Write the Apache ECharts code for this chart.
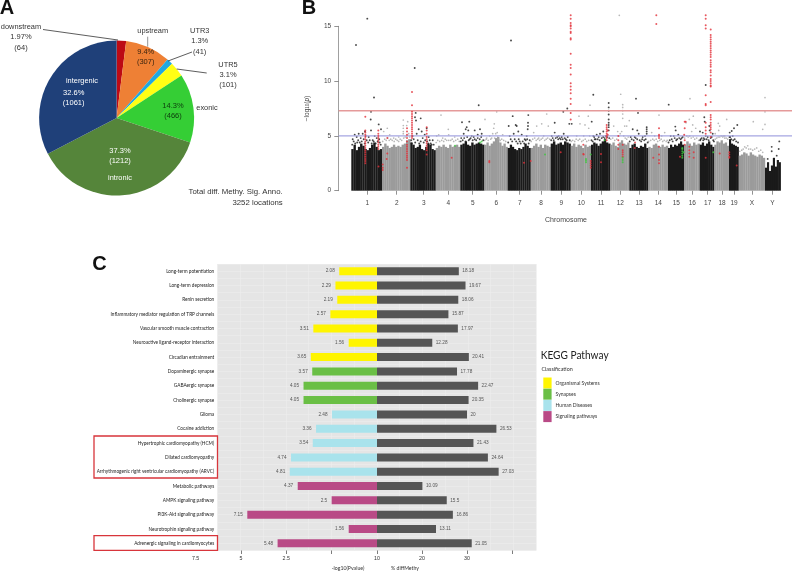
<!DOCTYPE html>
<html><head><meta charset="utf-8">
<style>html,body{margin:0;padding:0;background:#fff}#c{width:800px;height:574px}</style>
<script src="https://cdn.jsdelivr.net/npm/echarts@6/dist/echarts.min.js"></script>
</head><body><div id="c"></div>
<script>
// ---------- Panel A ----------
const pieNames = ['downstream','upstream','UTR3','UTR5','exonic','intronic','intergenic'];
const pieCounts = [64,307,41,101,466,1212,1061];
const piePercents = ['1.97%','9.4%','1.3%','3.1%','14.3%','37.3%','32.6%'];
const pieColors = ['#BC0A14','#EE8035','#1FA8E2','#FFFF14','#35CE35','#55853A','#1F4079'];
const pieLabelCenters = [[21,42.5],[145.7,57],[199.7,46.5],[228,80],[173,111],[120,156],[73.7,98]];
const pieLabelColors = ['#333','#3a2410','#333','#333','#0d3a0d','#fff','#fff'];
const pieNameCenters = [[21,27],[152.7,31],[199.7,30.5],[228,64.5],[207,108],[120,178],[82,81]];
const pieNameColors = ['#333','#333','#333','#333','#333','#fff','#fff'];

// ---------- Panel B ----------
const chromNames = ['1','2','3','4','5','6','7','8','9','10','11','12','13','14','15','16','17','18','19','X','Y'];
const chromEdges = [12.6,43.3,71.6,97,121.6,145.6,169,192,212,232,252.3,271.6,290.6,309.6,329.3,345.3,361,375.6,390.3,400,426.3,442];
const chromTicks = [28.6,58,85,109.6,134,157.6,181,202.3,222.6,242.6,262.3,281.6,300.3,319.6,337.6,353.6,369,383.3,395.3,413.3,433.6];
const chromTops = [
 [3.8,4.2,3.7,4.0,4.3,4.1,3.8,3.7,3.9,4.2,4.4,4.0,3.7,3.8],
 [4.0,4.3,4.1,3.9,4.0,4.2,4.0,4.1,4.0,4.2,4.3,4.6,4.7],
 [4.4,4.2,3.9,4.0,4.2,3.8,3.7,4.0,4.3,4.2,3.8,3.7],
 [3.9,4.1,4.0,4.2,4.0,3.9,4.2,4.0,4.1,4.2,4.0],
 [4.2,4.3,4.5,4.2,4.1,4.4,4.2,4.3,4.4,4.3,4.2],
 [4.2,4.4,4.1,4.3,4.5,4.8,4.9,4.4,4.1,4.3,4.0],
 [3.9,4.2,4.0,3.8,3.7,3.9,3.8,4.0,4.3,4.1,3.9],
 [3.9,4.1,4.3,4.0,4.2,3.9,4.2,4.1,4.0],
 [4.3,4.5,4.2,4.3,4.4,4.2,4.5,4.4,4.3],
 [4.1,4.3,4.0,4.2,4.1,3.9,4.2,4.0,4.1],
 [4.2,4.4,4.3,4.1,4.3,4.5,4.7,4.4,4.3],
 [4.2,4.4,4.1,4.0,4.4,4.6,4.3,4.2,4.4],
 [3.9,4.2,4.3,4.0,3.9,4.1,4.0,4.3,3.9],
 [4.0,3.9,4.2,4.3,4.1,4.0,4.2,4.0,4.1],
 [3.9,4.2,4.0,4.2,4.1,4.3,4.5,4.2],
 [4.2,4.5,4.3,4.1,4.4,4.2,4.3],
 [4.2,4.4,4.1,4.3,4.5,4.2,4.0],
 [4.2,4.5,4.4,4.6,4.3,4.4,4.1],
 [4.7,4.3,4.2,4.1,4.0],
 [3.2,3.3,3.5,3.4,3.2,3.5,3.3,3.2,3.1,3.3,3.2,3.0],
 [2.1,2.6,1.8,2.3,3.0,2.2,2.8,2.6]
];
const blackPoints = [
 [17.3,13.3],[28.6,15.7],[35.3,8.5],[32.3,7.2],[32,6.5],[40,6.05],[42.3,5.6],[26.3,5.4],[32.3,5.5],[16,5.1],[20,5.2],[24,5.2],[18,4.9],[30,4.9],[36,5],[14,4.7],[22,4.8],[38,4.8],[27,5],[34,4.6],[41,4.4],
 [13.5,4.2],[15,4.5],[16.5,4.3],[18.5,4.4],[19.5,4.6],[21,4.4],[23,4.5],[25,4.7],[26,4.3],[28,4.6],[29.5,4.4],[31,4.6],[33,4.3],[35,4.5],[37,4.3],[39,4.5],[40.5,4.7],[42,4.2],
 [76,11.2],[77,7.1],[76.3,6.7],[82,6.6],[77.3,6.4],[80,5.6],[88,5.7],[83,5.4],[74,5],[78,5.2],[86,5.1],[90,4.9],[84,4.8],[94,4.6],[72.5,4.6],[92,4.3],
 [73,4.3],[75,4.7],[76.5,4.4],[79,4.6],[80.5,4.3],[82,4.5],[85,4.4],[86.5,4.6],[88.5,4.5],[89.5,4.3],[91,4.6],[93,4.2],[95,4.2],
 [140,7.8],[123.3,6.25],[130.6,6.3],[128,5.8],[127,5.6],[129.6,5.5],[141.3,5.6],[136,5.5],[125,5.2],[133,5],[139,5.1],[122.5,4.8],[131,4.7],[143,5.2],[127,4.5],[136,4.7],
 [122,4.5],[124,4.6],[125.5,4.8],[128.5,4.9],[130,4.6],[132,4.8],[134,4.6],[135,4.9],[137.5,4.6],[139,4.8],[141,4.7],[142.5,4.9],[144.5,4.6],
 [172.3,13.7],[174,6.8],[170,5.9],[177,6],[178,5.9],[189.6,6.9],[189.3,6.2],[189.3,5.9],[189,5.6],[179.6,5.4],[175,5.2],[171,5],[183,5.1],[188,5],[186,4.7],[191,4.6],[176,4.7],[181,4.5],
 [169.5,4.4],[172,4.7],[173.5,4.5],[177.5,4.5],[179,4.3],[180,4.7],[182,4.3],[184,4.5],[185.5,4.3],[187,4.6],[188.5,4.7],[190,4.3],
 [228.6,7.5],[224.6,7.2],[230.6,6.1],[233,6.1],[216,6.2],[216,5.3],[220,5],[225,5.2],[213,5],[229,4.9],[222,4.7],[217,4.8],[231,4.6],
 [212.5,4.6],[214,4.8],[215,4.6],[218.5,4.9],[219.5,4.7],[221,4.8],[223,4.9],[224,4.7],[226,4.8],[227,4.7],[228,4.6],
 [254.6,8.75],[270,8],[270,7.6],[270,7.3],[253,6.3],[270,6.95],[270,6.5],[270,6.2],[270,6],[270,5.8],[270,5.5],[264.6,5.4],[261.3,5.2],[254.6,5],[258,5.1],[266,4.8],[256,4.7],
 [252.8,4.6],[254,4.5],[255.5,4.9],[257,4.7],[259,4.7],[260,4.9],[261,4.6],[263,4.8],[264.5,4.9],[267,5],[268.5,4.9],[270.5,4.8],
 [297.3,8.4],[299.3,7.1],[298.6,5.5],[294,5.6],[308,5.8],[308,5.6],[308,5.4],[308,5.2],[306.3,5],[292,4.9],[300,5.2],[296,4.9],[304,4.9],
 [291,4.5],[293,4.7],[295,4.6],[297,4.8],[298.5,4.7],[301,4.6],[302.5,4.5],[303.5,4.7],[305.5,4.6],[307,4.7],[309,4.4],
 [330,7.85],[336.6,5.85],[337,5.5],[332,5],[335,5],[336,4.8],[339.6,5.1],[343,4.8],
 [329.8,4.4],[331,4.6],[333,4.7],[334,4.5],[337.5,4.6],[338.5,4.7],[340.5,4.8],[342,4.7],[344,4.9],
 [367,9.65],[365.6,6.7],[366,6.3],[361.3,5.4],[364,5.3],[367,5],[370.6,5.9],[371,5.5],[374,5.2],[365,4.8],[362,4.7],
 [361.5,4.6],[363,4.8],[364.5,4.6],[366,4.7],[368,4.7],[369,4.9],[370,4.6],[372,4.8],[373,4.9],[374.5,4.6],[375.2,4.5],
 [398.6,6],[395.3,5.7],[393,5.45],[391,5.3],[394,5],[391.5,4.9],
 [390.8,4.9],[392.5,4.7],[394.5,4.6],[396,4.7],[397.5,4.5],[399.3,4.4],
 [433,4],[440.6,4.5],[433,3.6],[440,3.8],[429,2.9],[438,3.2]
];
const grayPoints = [
 [64.6,6.45],[64.6,5.95],[64.6,5.7],[64.6,5.4],[64.6,5.2],[48.6,5.7],[45,5.4],[51,5.1],[68,5.95],[69,6.3],[55,4.8],[60,4.9],
 [44,4.5],[46,4.7],[47.5,4.6],[49,4.8],[50.5,4.6],[52,4.7],[53.5,4.6],[55.5,4.5],[57,4.7],[58.5,4.6],[60,4.5],[61.5,4.7],[63,4.6],[65,4.8],[66.5,4.9],[68,5],[70,5.2],[71,4.9],
 [102.3,6.9],[100,5.1],[109.6,5.6],[116,4.9],[110,5.1],[104,4.8],[98,5],
 [97.5,4.4],[99,4.6],[101,4.5],[103,4.6],[105,4.5],[106.5,4.7],[108,4.6],[110,4.6],[112,4.6],[113.5,4.7],[115,4.5],[117,4.6],[119,4.7],[120.5,4.5],
 [158,7.2],[146.3,6.5],[155.6,6.1],[155,5.7],[154,5.2],[151,5],[159,4.9],[164,5.1],[148,4.8],
 [146,4.6],[147.5,4.7],[149.5,4.6],[152,4.7],[153,4.8],[156,4.8],[157,5.2],[158.5,5.3],[160,4.7],[161.5,4.6],[163,4.7],[165,4.6],[167,4.5],
 [208,7],[198,5.9],[203,6.1],[209.6,5.9],[195,5.3],[205,5],[200,4.8],
 [192.5,4.5],[194,4.7],[196,4.8],[197.5,4.6],[199,4.7],[201,4.6],[202.5,4.7],[204,4.8],[206,4.6],[207.5,4.7],[209,4.8],[211,4.7],
 [240.3,6.8],[249.6,6.8],[246.3,6],[251.3,7.8],[241.3,6.1],[250,5.7],[245,5],[238,5],[251,5],
 [232.5,4.5],[234,4.6],[236,4.5],[237.5,4.7],[239.5,4.6],[241,4.7],[243,4.5],[244.5,4.6],[246.5,4.7],[248,4.5],[250,4.6],
 [282,8.8],[284,7.85],[284,7.6],[284,7.3],[284,7],[284,6.6],[280.6,16],[290.6,6.4],[286,5.9],[288,5.9],[279,5.4],[275,5.9],
 [272,4.7],[274,4.8],[276,4.6],[278,4.7],[280,5],[281.5,5.2],[283,5.4],[285,5],[286.5,4.8],[288,4.7],[289.5,4.9],
 [320.3,6.9],[326,5.3],[313,5.3],[316,5],[323,5],
 [310,4.5],[312,4.6],[314,4.7],[315.5,4.6],[317.5,4.7],[319,4.5],[321,4.6],[322.5,4.7],[324,4.5],[325.5,4.6],[327.5,4.5],[328.5,4.6],
 [351.3,8.4],[354.6,6.8],[350.6,6.5],[347.3,6.2],[354,6],[353,5.4],[357,5.7],
 [346,4.8],[348,5],[349.5,4.9],[351,5],[352.5,4.8],[354.5,4.9],[356,4.7],[358,4.8],[360,4.6],
 [388,6.5],[379.6,6.15],[381,5.9],[380,5.5],[376.5,5.2],[386,5],[384,4.9],
 [376.5,4.7],[378,4.8],[379.5,4.9],[381,4.9],[382.5,5],[384.5,5],[386,4.8],[387.5,4.8],[389,4.7],
 [414.6,6.3],[424,5.6],[426.3,8.5],[426.3,7.2],[426.3,6.05],[409,4.1],[406,4],[412,3.8],[418,3.9],[422,3.7],
 [401,3.6],[403,3.7],[404.5,3.8],[407.5,3.9],[410,3.8],[414,3.7],[416,3.8],[420,3.6],[424,3.5]
];
const redPoints = [
 [26.6,6.75],[26.6,5.5],[26.6,5.3],[26.6,5.1],[26.6,4.9],[26.6,4.7],[26.6,4.5],[26.6,4.3],[26.6,4.1],[26.6,3.9],[26.6,3.7],[26.6,3.5],[26.6,3.3],[26.6,3.1],[26.6,2.9],[26.6,2.7],[26.6,2.5],
 [39.6,5.5],[39.6,5.2],[39.6,5],[39.6,4.8],[39.6,4.6],[39.6,4.4],[39.6,4.2],[39.6,4],[39.6,3.8],[44,2.4],[44,2.1],[44,1.9],[39.8,2.2],
 [48.6,4.8],[48.6,3.4],[48,2.9],
 [68.3,5.7],[68.3,5.4],[68.3,5.1],[68.3,4.8],[68.3,4.5],[68.3,4.2],[68.3,4],[68.3,3.8],[68.3,3.6],[68.3,3.4],[68.3,3.2],[68.3,3],[68.3,2.8],[68.3,2.1],
 [73.3,9],[73.3,7.8],[73.3,7.2],[73.3,7],[73.3,6.8],[73.3,6.6],[73.3,6.4],[73.3,6.2],[73.3,6],[73.3,5.8],[73.3,5.6],[73.3,5.4],[73.3,5.2],[73.3,5],[73.3,4.8],
 [88,5.8],[88,5.5],[88,5.2],[88,4.9],[88,4.7],[88,4.5],[88,4.3],[88,4.1],[88,3.9],[88,3.7],[88,3.3],
 [113,3],[150.6,2.6],[150.6,2.7],[185.3,2.55],[192,2.7],[222,3.5],
 [232,16],[232,15.7],[232,15.3],[232,15.1],[232,15],[232,14.8],[232,14.5],[232,14.4],[232,13.9],[232,13.8],[232,12.5],[232,11.5],[232,11.2],[232,10.6],[232,9.8],[232,9.5],[232,9.2],[232,8.9],[232,8.4],[232,7.9],[232,7.1],[232,6.5],
 [244.6,4.2],[244.6,3.35],[245,3.3],[252,2.7],[252,2.5],[252,2.3],[252,2.1],
 [262.3,3.35],[262.3,2.6],
 [268,6],[268,5.8],[268,5.6],[268,5.4],[268,5.2],[268,5],[268,4.8],[268,4.6],[269,5.5],[269,5.1],
 [279.6,5],[279.6,4.6],[279.6,4.2],[279.6,3.8],[284,3.3],[284,3.5],[284,3.1],[284,3.7],[284,4.2],
 [296.3,4.4],[296,3.9],
 [317.6,16],[317.6,15.2],[320.3,5.7],[320.3,5.1],[320.3,5],[320.3,4.8],[320.3,4],[320.3,3.3],[320.3,2.8],[320.3,2.5],[314.6,3],
 [341.3,3.1],[346,6.3],[347,6.3],[346,5.7],[345.5,5.1],[346,4.6],[346,4.2],
 [350.6,4],[350.6,3.7],[350.6,3.4],[350.6,3.1],[355,3.5],[355,3],
 [367,16],[367,15.7],[367,15.1],[367,14.8],[367,8.7],[367,7.9],[367,7.8],[367,6.2],[367,5.8],[367,5.5],[367,5.2],[367,3],
 [372,14.7],[372,14.2],[372,14],[372,13.8],[372,13.6],[372,13.4],[372,13.2],[372,13],[372,12.8],[372,12.6],[372,12.4],[372,12.2],[372,11.9],[372,11.7],[372,11.5],[372,11.3],[372,11],[372,10.8],[372,10.5],[372,10.2],[372,10],[372,9.8],[372,9.6],[372,9.5],[372,8.1],[372,6.9],[372,6.7],[372,6.5],[372,6.2],[372,6],[372,5.8],[372,5.6],[372,5.3],[372,4.9],
 [381,3.4],[390.6,3.5],[390.6,3.3],[390.6,3.1],[390.6,3],[398,2.3]
];
const greenPoints = [
 [116.3,4.1],[141.3,4.4],[143,4.5],[206.3,3.3],[247.3,2.9],[247.3,2.75],[247.3,2.6],[252,3.3],[284,2.6],[284,2.8],[284,3],
 [343.6,3],[343.6,3.2],[343.6,3.4],[343.6,3.6],[343.6,3.8],[343.6,3.9],[345,3.5],[374.6,3.5],[266,4.6]
];
const genomeWide = 7.3, suggestive = 5;
const bMaxX = 453.3;

// ---------- Panel C ----------
const pathways = ['Long-term potentiation','Long-term depression','Renin secretion','Inflammatory mediator regulation of TRP channels','Vascular smooth muscle contraction','Neuroactive ligand-receptor interaction','Circadian entrainment','Dopaminergic synapse','GABAergic synapse','Cholinergic synapse','Glioma','Cocaine addiction','Hypertrophic cardiomyopathy (HCM)','Dilated cardiomyopathy','Arrhythmogenic right ventricular cardiomyopathy (ARVC)','Metabolic pathways','AMPK signaling pathway','PI3K-Akt signaling pathway','Neurotrophin signaling pathway','Adrenergic signaling in cardiomyocytes'];
const logP = [2.08,2.29,2.19,2.57,3.51,1.56,3.65,3.57,4.05,4.05,2.48,3.36,3.54,4.74,4.81,4.37,2.5,7.15,1.56,5.48];
const diffMethy = [18.18,19.67,18.06,15.87,17.97,12.28,20.41,17.78,22.47,20.35,20,26.53,21.43,24.64,27.03,10.09,15.5,16.86,13.11,21.05];
const classes = ['Organismal Systems','Synapses','Human Diseases','Signaling pathways'];
const classColors = ['#FFF500','#6ABF45','#A9E3EC','#B94A86'];
const classOfPathway = [0,0,0,0,0,0,0,1,1,1,2,2,2,2,2,3,3,3,3,3];
const leftTicks = [2.5,5,7.5];
const leftLabelValues = [5,7.5,10];
const leftTickLabels = ['2.5','5','7.5'];
const rightTicks = [0,10,20,30];
const rightLabelValues = [0,10,20];
const rightTickLabels = ['10','20','30'];

const SANS = '"Liberation Sans",Arial,sans-serif';
const NARROW = 'Lato,"Liberation Sans",sans-serif';

function txt(x,y,text,size,color,opt,elOpt){
  return Object.assign({type:'text',x:x,y:y,silent:true,z:50,style:Object.assign({text:text,font:size+'px '+SANS,fill:color,textAlign:'center',textVerticalAlign:'middle'},opt||{})},elOpt||{});
}
function seg(x1,y1,x2,y2,color,w){
  return {type:'line',silent:true,z:50,shape:{x1,y1,x2,y2},style:{stroke:color,lineWidth:w||0.8}};
}
function box(x,y,w,h){
  return {type:'rect',silent:true,z:50,shape:{x,y,width:w,height:h},style:{fill:null,stroke:'#D8353B',lineWidth:1.3}};
}

// envelope rectangles for the Manhattan mass
const massData = [];
chromTops.forEach((tops,i)=>{
  const w=(chromEdges[i+1]-chromEdges[i])/tops.length;
  tops.forEach((h,k)=>massData.push([chromEdges[i]+k*w,chromEdges[i]+(k+1)*w,h,i]));
});

const cSeries = [];
classes.forEach((name,ci)=>{
  cSeries.push({type:'bar',name:name,xAxisIndex:1,yAxisIndex:1,stack:'p',barWidth:8,
    itemStyle:{color:classColors[ci]},
    label:{show:true,position:'left',distance:4.5,fontSize:4.7,color:'#555',fontFamily:SANS},
    data:logP.map((v,i)=>classOfPathway[i]===ci?v:null)});
});
cSeries.push({type:'bar',name:'% diffMethy',xAxisIndex:2,yAxisIndex:2,barWidth:8,
  itemStyle:{color:'#555555'},
  label:{show:true,position:'right',distance:3.5,fontSize:4.7,color:'#555',fontFamily:SANS},
  data:diffMethy});

const option = {
  animation:false,
  backgroundColor:'#fff',
  textStyle:{fontFamily:SANS},
  grid:[
    {left:217.5,top:264,width:318.5,height:286.5,show:true,backgroundColor:'#E5E5E5',borderWidth:0},
    {left:195.6,top:264,width:181.4,height:286.5},
    {left:377,top:264,width:159,height:286.5},
    {left:338.7,top:26.3,width:bMaxX,height:164.4}
  ],
  xAxis:[
    {gridIndex:0,type:'value',min:-3.5,max:3.5,interval:0.5,axisLabel:{show:false},axisLine:{show:false},axisTick:{show:false},splitLine:{show:true,lineStyle:{color:'#EDEDED',width:0.7}}},
    {gridIndex:1,type:'value',inverse:true,min:0,max:10,splitLine:{show:false},axisLine:{show:false},
      axisTick:{show:true,length:3.5,customValues:leftTicks,lineStyle:{color:'#444',width:0.7}},
      axisLabel:{show:true,customValues:leftLabelValues,margin:6,fontSize:5.3,color:'#333',fontFamily:SANS,formatter:v=>leftTickLabels[leftLabelValues.indexOf(v)]}},
    {gridIndex:2,type:'value',min:0,max:35.33,splitLine:{show:false},axisLine:{show:false},
      axisTick:{show:true,length:3.5,customValues:rightTicks,lineStyle:{color:'#444',width:0.7}},
      axisLabel:{show:true,customValues:rightLabelValues,margin:6,fontSize:5.3,color:'#333',fontFamily:SANS,formatter:v=>rightTickLabels[rightLabelValues.indexOf(v)]}},
    {gridIndex:3,type:'value',min:0,max:bMaxX,splitLine:{show:false},axisLine:{show:false},
      axisTick:{show:true,length:4,customValues:chromTicks,lineStyle:{color:'#777',width:0.8}},
      axisLabel:{show:true,customValues:chromTicks,margin:9.5,fontSize:6.5,color:'#444',formatter:v=>chromNames[chromTicks.indexOf(v)]}}
  ],
  yAxis:[
    {gridIndex:0,type:'value',min:0,max:20,interval:0.5,axisLabel:{show:false},axisLine:{show:false},axisTick:{show:false},splitLine:{show:true,lineStyle:{color:'#ECECEC',width:0.7}}},
    {gridIndex:1,type:'category',inverse:true,data:pathways,offset:-18.6,axisLine:{show:false},axisTick:{show:false},
      axisLabel:{interval:0,margin:0,fontSize:4.72,color:'#222',fontFamily:NARROW}},
    {gridIndex:2,type:'category',inverse:true,data:pathways,axisLine:{show:false},axisTick:{show:false},axisLabel:{show:false}},
    {gridIndex:3,type:'value',min:0,max:15,interval:5,splitLine:{show:false},
      axisLine:{show:true,lineStyle:{color:'#888',width:0.8}},
      axisTick:{show:true,length:4.4,lineStyle:{color:'#777',width:0.8}},
      axisLabel:{margin:7.5,fontSize:6.5,color:'#444'},
      name:'−log{s|10}({i|p})',nameLocation:'middle',nameGap:28,nameRotate:90,
      nameTextStyle:{fontSize:6.5,color:'#444',rich:{s:{fontSize:4.5,color:'#444',verticalAlign:'bottom'},i:{fontSize:6.5,color:'#444',fontStyle:'italic'}}}}
  ],
  legend:{left:543.3,top:377.5,orient:'vertical',data:classes,itemWidth:8.3,itemHeight:11,itemGap:0.2,icon:'rect',selectedMode:false,
    padding:0,textStyle:{fontSize:5,color:'#333',fontFamily:NARROW,padding:[0,0,0,-1]}},
  series:[
    {type:'pie',center:[116.6,118],radius:[0,77.5],startAngle:90,clockwise:true,silent:true,
      data:pieNames.map((n,i)=>({name:n,value:pieCounts[i],itemStyle:{color:pieColors[i]},
        label:{color:pieLabelColors[i]}})),
      label:{show:true,position:'inside',fontSize:7.5,lineHeight:10.5,
        formatter:p=>piePercents[p.dataIndex]+'\n('+pieCounts[p.dataIndex]+')'},
      labelLine:{show:false},
      labelLayout:p=>({x:pieLabelCenters[p.dataIndex][0],y:pieLabelCenters[p.dataIndex][1],align:'center',verticalAlign:'middle'})
    },
    {type:'custom',xAxisIndex:3,yAxisIndex:3,silent:true,clip:false,z:2,data:massData,
      encode:{x:[0,1],y:2},
      renderItem:(params,api)=>{
        const a=api.coord([api.value(0),0]), b=api.coord([api.value(1),api.value(2)]);
        return {type:'rect',shape:{x:a[0],y:b[1],width:b[0]-a[0]+0.2,height:a[1]-b[1]},
          style:{fill:api.value(3)%2===0?'#1A1A1A':'#9B9B9B'}};
      }},
    {type:'scatter',xAxisIndex:3,yAxisIndex:3,silent:true,clip:false,z:3,symbolSize:1.7,itemStyle:{color:'#A8A8A8'},data:grayPoints},
    {type:'scatter',xAxisIndex:3,yAxisIndex:3,silent:true,clip:false,z:3,symbolSize:1.9,itemStyle:{color:'#1A1A1A'},data:blackPoints},
    {type:'line',xAxisIndex:3,yAxisIndex:3,silent:true,z:4,symbol:'none',lineStyle:{color:'#E59A9A',width:1.4},data:[[0,genomeWide],[bMaxX,genomeWide]]},
    {type:'line',xAxisIndex:3,yAxisIndex:3,silent:true,z:4,symbol:'none',lineStyle:{color:'#A6A6E2',width:1.4},data:[[0,suggestive],[bMaxX,suggestive]]},
    {type:'scatter',xAxisIndex:3,yAxisIndex:3,silent:true,clip:false,z:5,symbolSize:2,itemStyle:{color:'#E23038'},data:redPoints},
    {type:'scatter',xAxisIndex:3,yAxisIndex:3,silent:true,clip:false,z:5,symbolSize:2,itemStyle:{color:'#3CC83C'},data:greenPoints}
  ].concat(cSeries),
  graphic:[
    txt(7,8.5,'A',20,'#111',{font:'bold 20px '+SANS}),
    txt(309,8,'B',20,'#111',{font:'bold 20px '+SANS}),
    txt(99.5,264,'C',20,'#111',{font:'bold 20px '+SANS}),
    ...pieNames.map((n,i)=>txt(pieNameCenters[i][0],pieNameCenters[i][1],n,7.4,pieNameColors[i])),
    seg(43,29.5,118,40,'#333'),
    seg(147.7,36.7,147.7,46.7,'#777'),
    seg(192,52,168,61,'#333'),
    seg(176.7,69,206.7,73,'#333'),
    txt(282.7,192.3,'Total diff. Methy. Sig. Anno.',7.8,'#333',{textAlign:'right'}),
    txt(282.7,203,'3252 locations',7.8,'#333',{textAlign:'right'}),
    txt(566,220,'Chromosome',7,'#444'),
    box(94,436,123.5,42),
    box(94,535.7,123.5,14.6),
    txt(348,568,'-log10(Pvalue)',5.2,'#333',{font:'5.2px '+NARROW}),
    txt(405,568,'% diffMethy',5.2,'#333',{font:'5.2px '+NARROW}),
    txt(540.7,355.7,'KEGG Pathway',11.5,'#222',{font:'11.5px '+NARROW,textAlign:'left'},{scaleX:0.88}),
    txt(541.5,369,'Classification',5.4,'#333',{font:'5.4px '+NARROW,textAlign:'left'})
  ]
};
const chart = echarts.init(document.getElementById('c'),null,{renderer:'canvas',width:800,height:574});
chart.setOption(option);
</script></body></html>
